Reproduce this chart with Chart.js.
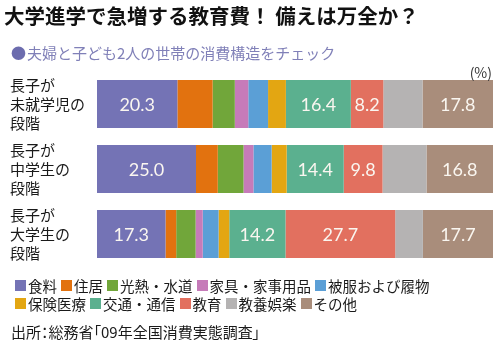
<!DOCTYPE html>
<html lang="ja">
<head>
<meta charset="utf-8">
<script src="https://cdn.jsdelivr.net/npm/chart.js@4/dist/chart.umd.min.js"></script>
<style>
    body { margin: 0; background: #fff; }
    #wrap { position: relative; width: 500px; height: 349px; overflow: hidden;
            font-family: "Noto Sans CJK JP", sans-serif; color: #1a1a1a; }
    #chart { position: absolute; left: 0; top: 0; }
    .title { position: absolute; left: 4px; top: 2px; font-size: 20.5px; font-weight: 700;
             line-height: 26px; white-space: nowrap; color: #111; }
    .sub { position: absolute; left: 11px; top: 42px; font-size: 15px; line-height: 22px;
           color: #8080b8; white-space: nowrap; }
    .sub .dot { color: #6c6cae; margin-right: 1px; }
    .unit { position: absolute; right: 8px; top: 63px; font-size: 14px; line-height: 18px; color: #333; }
    #legend { position: absolute; left: 15px; top: 277px; width: 425px; display: flex; flex-wrap: wrap;
              font-size: 14.5px; line-height: 17.5px; }
    .item { display: flex; align-items: center; margin-right: 4px; white-space: nowrap; }
    .box { width: 11px; height: 11px; margin-right: 2px; }
    .src { position: absolute; left: 11px; top: 322px; font-size: 15px; line-height: 20px;
           white-space: nowrap; font-feature-settings: "palt"; }
</style>
</head>
<body>
<div id="wrap">
    <canvas id="chart" width="500" height="349"></canvas>
    <div class="title">大学進学で急増する教育費！ 備えは万全か？</div>
    <div class="sub"><span class="dot">●</span>夫婦と子ども2人の世帯の消費構造をチェック</div>
    <div class="unit">(%)</div>
    <div id="legend"></div>
    <div class="src">出所：総務省「09年全国消費実態調査」</div>
</div>
<script>
// rows (tick labels, one line per entry)
const rowLabels = [
    ['長子が', '未就学児の', '段階'],
    ['長子が', '中学生の', '段階'],
    ['長子が', '大学生の', '段階']
];

// spending categories
const categories = ['食料', '住居', '光熱・水道', '家具・家事用品', '被服および履物',
    '保険医療', '交通・通信', '教育', '教養娯楽', 'その他'];

// share in % for each row: 未就学児, 中学生, 大学生
const food      = [20.3, 25.0, 17.3];
const housing   = [8.9, 5.5, 2.7];
const utilities = [5.6, 6.5, 4.9];
const furniture = [3.4, 2.5, 1.8];
const clothing  = [5.0, 4.6, 4.0];
const medical   = [4.5, 3.8, 2.7];
const transport = [16.4, 14.4, 14.2];
const education = [8.2, 9.8, 27.7];
const leisure   = [9.9, 11.1, 7.0];
const other     = [17.8, 16.8, 17.7];

const seriesValues = [food, housing, utilities, furniture, clothing,
    medical, transport, education, leisure, other];

// only these get a number printed on the bar
const labeledCategories = ['食料', '交通・通信', '教育', 'その他'];

const colors = ['#7473b5', '#e2720f', '#71a63a', '#c67bb9', '#5b9fd6',
    '#e3a612', '#5bb08f', '#e2705f', '#b5b3b3', '#a98d7b'];

const valueLabels = {
    id: 'valueLabels',
    afterDatasetsDraw(chart) {
        const ctx = chart.ctx;
        ctx.save();
        ctx.font = '18px Lato, "DejaVu Sans", sans-serif';
        ctx.fillStyle = '#faf6f0';
        ctx.textAlign = 'center';
        ctx.textBaseline = 'middle';
        chart.data.datasets.forEach((ds, i) => {
            if (!labeledCategories.includes(ds.label)) return;
            chart.getDatasetMeta(i).data.forEach((bar, j) => {
                const { x, base, y } = bar.getProps(['x', 'base', 'y'], true);
                ctx.fillText(ds.data[j].toFixed(1), (x + base) / 2, y + 1);
            });
        });
        ctx.restore();
    }
};

new Chart(document.getElementById('chart'), {
    type: 'bar',
    data: {
        labels: rowLabels,
        datasets: categories.map((name, i) => ({
            label: name,
            data: seriesValues[i],
            backgroundColor: colors[i],
            borderWidth: 0,
            categoryPercentage: 1,
            barPercentage: 0.74
        }))
    },
    options: {
        indexAxis: 'y',
        responsive: false,
        animation: false,
        devicePixelRatio: 1,
        layout: { padding: { left: 10, right: 7, top: 71.5, bottom: 82.5 } },
        plugins: {
            legend: { display: false },
            tooltip: { enabled: false }
        },
        scales: {
            x: { stacked: true, min: 0, max: 100, display: false },
            y: {
                stacked: true,
                grid: { display: false, drawTicks: false },
                border: { display: false },
                ticks: {
                    crossAlign: 'far',
                    color: '#1a1a1a',
                    font: { family: '"Noto Sans CJK JP"', size: 15, lineHeight: 1.27 }
                },
                afterFit: (scale) => { scale.width = 87; }
            }
        }
    },
    plugins: [valueLabels]
});

// legend built from the same category list
const legend = document.getElementById('legend');
categories.forEach((name, i) => {
    const item = document.createElement('div');
    item.className = 'item';
    item.innerHTML = `<span class="box" style="background:${colors[i]}"></span>${name}`;
    legend.appendChild(item);
});
</script>
</body>
</html>
